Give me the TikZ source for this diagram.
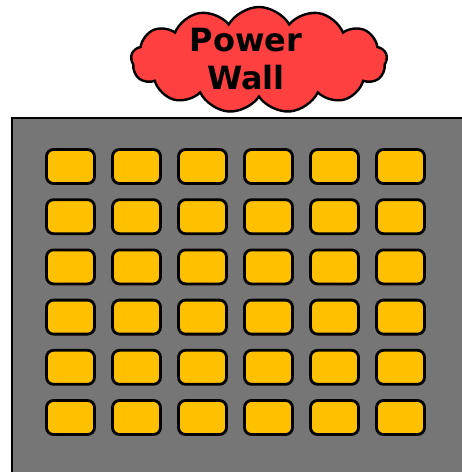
\documentclass[tikz,border=0pt]{standalone}
\usepackage{fontspec}
\setmainfont{DejaVu Sans}
\usetikzlibrary{shapes.symbols}

\definecolor{wallgrey}{HTML}{767676}
\definecolor{cellgold}{HTML}{FFC000}
\definecolor{cloudred}{HTML}{FF4040}

\tikzset{
  wall/.style={fill=wallgrey, draw=black, line width=2pt},
  cell/.style={draw=black, fill=cellgold, line width=2.8pt, rounded corners=7pt,
    minimum width=48pt, minimum height=34pt, inner sep=0pt},
  label cloud/.style={cloud, cloud puffs=13, cloud puff arc=120, aspect=2.5,
    draw=black, fill=cloudred, line width=2.4pt, inner sep=0pt,
    minimum width=256pt, minimum height=106pt},
  cloud text/.style={align=center, inner sep=0pt,
    font=\bfseries\fontsize{32}{38}\selectfont}
}

\begin{document}
\begin{tikzpicture}[x=1pt, y=-1pt]
  \useasboundingbox (0,0) rectangle (462,472);
  \clip (0,0) rectangle (462,472);

  % 1. the wall (runs off the right and bottom edges)
  \draw[wall] (12,118) rectangle (480,490);

  % 2. the 6 x 6 cells
  \foreach \r in {1,...,6}{
    \foreach \c in {1,...,6}{
      \node[cell] (cell-\r-\c) at ({70.5+66*(\c-1)}, {166.5+50.2*(\r-1)}) {};
    }
  }

  % 3. the cloud label
  \node[label cloud] (powerwall) at (259,60) {};
  \node[cloud text] (powerwall-text) at (246,59) {Power\\Wall};
\end{tikzpicture}
\end{document}
